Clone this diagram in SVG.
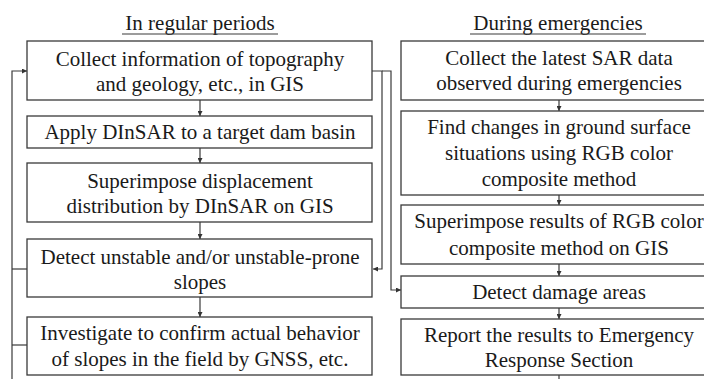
<svg xmlns="http://www.w3.org/2000/svg" width="704" height="379" viewBox="0 0 704 379">
<defs>
<marker id="ah" viewBox="0 0 6 6" refX="6" refY="3" markerWidth="5" markerHeight="5" markerUnits="userSpaceOnUse" orient="auto">
<path d="M0,0 L6,3 L0,6 Z" fill="#333"/>
</marker>
<style>
.box{fill:#fff;stroke:#3a3a3a;stroke-width:1.3}
.t{font-size:21px;fill:#1a1a1a;text-anchor:middle}
.c{fill:none;stroke:#3a3a3a;stroke-width:1.2}
.a{marker-end:url(#ah)}
</style>
</defs>
<rect width="704" height="379" fill="#fff"/>
<g font-family="'Liberation Serif', 'DejaVu Serif', serif">
<g id="titles">
<text class="t" x="200" y="30">In regular periods</text>
<line x1="122" y1="34" x2="278" y2="34" class="c"/>
<text class="t" x="558" y="30">During emergencies</text>
<line x1="470" y1="34" x2="646" y2="34" class="c"/>
</g>
<g id="connectors">
<line class="c a" x1="200" y1="100" x2="200" y2="116"/>
<line class="c a" x1="200" y1="148" x2="200" y2="163"/>
<line class="c a" x1="200" y1="222" x2="200" y2="239"/>
<line class="c a" x1="200" y1="297" x2="200" y2="317"/>
<line class="c a" x1="559" y1="100" x2="559" y2="111"/>
<line class="c a" x1="559" y1="195" x2="559" y2="205"/>
<line class="c a" x1="559" y1="264" x2="559" y2="276"/>
<line class="c a" x1="559" y1="308" x2="559" y2="319"/>
<line class="c" x1="559" y1="375" x2="559" y2="380"/>
<polyline class="c a" points="12,380 12,71 27,71"/>
<line class="c" x1="27" y1="269" x2="12" y2="269"/>
<line class="c" x1="27" y1="345" x2="12" y2="345"/>
<polyline class="c a" points="372,71 382,71 382,269 373,269"/>
<polyline class="c a" points="382,71 391,71 391,290 401,290"/>
</g>
<g id="n1">
<rect class="box" x="27" y="41" width="345" height="59"/>
<text class="t" x="200" y="66">Collect information of topography</text>
<text class="t" x="200" y="91">and geology, etc., in GIS</text>
</g>
<g id="n2">
<rect class="box" x="27" y="116" width="345" height="32"/>
<text class="t" x="200" y="139">Apply DInSAR to a target dam basin</text>
</g>
<g id="n3">
<rect class="box" x="27" y="163" width="345" height="59"/>
<text class="t" x="200" y="188">Superimpose displacement</text>
<text class="t" x="200" y="213">distribution by DInSAR on GIS</text>
</g>
<g id="n4">
<rect class="box" x="27" y="239" width="345" height="58"/>
<text class="t" x="200" y="264">Detect unstable and/or unstable-prone</text>
<text class="t" x="200" y="289">slopes</text>
</g>
<g id="n5">
<rect class="box" x="27" y="317" width="345" height="58"/>
<text class="t" x="200" y="340">Investigate to confirm actual behavior</text>
<text class="t" x="200" y="366">of slopes in the field by GNSS, etc.</text>
</g>
<g id="r1">
<rect class="box" x="401" y="41" width="316" height="59"/>
<text class="t" x="559" y="65">Collect the latest SAR data</text>
<text class="t" x="559" y="90">observed during emergencies</text>
</g>
<g id="r2">
<rect class="box" x="401" y="111" width="316" height="84"/>
<text class="t" x="559" y="134">Find changes in ground surface</text>
<text class="t" x="559" y="160">situations using RGB color</text>
<text class="t" x="559" y="186">composite method</text>
</g>
<g id="r3">
<rect class="box" x="401" y="205" width="316" height="59"/>
<text class="t" x="559" y="228">Superimpose results of RGB color</text>
<text class="t" x="559" y="255">composite method on GIS</text>
</g>
<g id="r4">
<rect class="box" x="401" y="276" width="316" height="32"/>
<text class="t" x="559" y="299">Detect damage areas</text>
</g>
<g id="r5">
<rect class="box" x="401" y="319" width="316" height="56"/>
<text class="t" x="559" y="342">Report the results to  Emergency</text>
<text class="t" x="559" y="367">Response Section</text>
</g>
</g>
</svg>
